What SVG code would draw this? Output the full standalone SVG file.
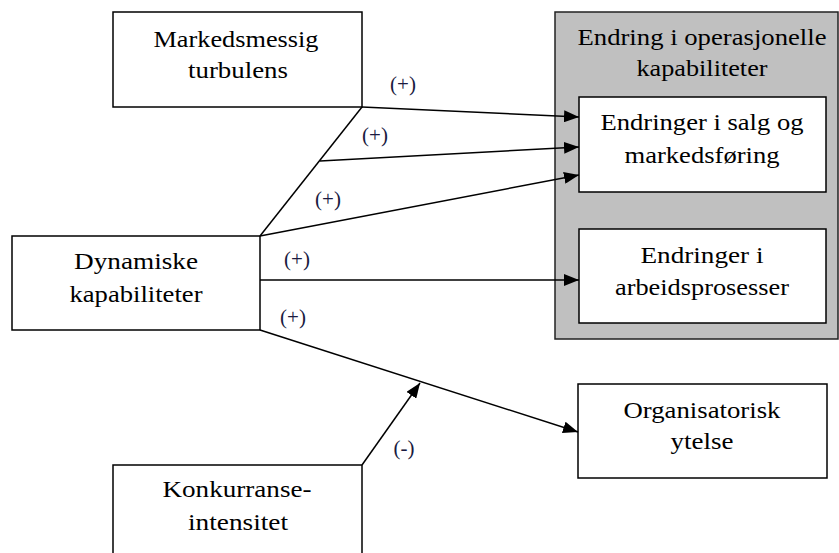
<svg xmlns="http://www.w3.org/2000/svg" width="839" height="553" viewBox="0 0 839 553">
<style>
.box{fill:#fff;stroke:#000;stroke-width:1.5}
.grp{fill:#c0c0c0;stroke:#222;stroke-width:1.5}
.t{font-family:"Liberation Serif","Times New Roman",serif;font-size:23px;fill:#000;text-anchor:middle}
.lbl{font-family:"Liberation Serif","Times New Roman",serif;font-size:21px;fill:#1a1a40;text-anchor:middle}
.c{stroke:#000;stroke-width:1.5;fill:none}
.ca{stroke:#000;stroke-width:1.5;fill:none;marker-end:url(#ah)}
</style>
<defs>
<marker id="ah" markerUnits="userSpaceOnUse" markerWidth="16" markerHeight="12" refX="15" refY="6" orient="auto">
<path d="M0,0 L15,6 L0,12 Z" fill="#000"/>
</marker>
</defs>
<rect width="839" height="553" fill="#fff"/>
<g id="gruppe-operasjonelle">
<rect class="grp" x="555" y="12" width="283" height="327"/>
<text class="t" x="702" y="45" textLength="249" lengthAdjust="spacingAndGlyphs">Endring i operasjonelle</text>
<text class="t" x="702" y="76" textLength="131" lengthAdjust="spacingAndGlyphs">kapabiliteter</text>
</g>
<g id="markedsmessig">
<rect class="box" x="113" y="12" width="249" height="95"/>
<text class="t" x="236" y="47" textLength="165" lengthAdjust="spacingAndGlyphs">Markedsmessig</text>
<text class="t" x="238" y="78" textLength="100" lengthAdjust="spacingAndGlyphs">turbulens</text>
</g>
<g id="dynamiske">
<rect class="box" x="12" y="236" width="248" height="94"/>
<text class="t" x="136" y="269" textLength="124" lengthAdjust="spacingAndGlyphs">Dynamiske</text>
<text class="t" x="136" y="302" textLength="133" lengthAdjust="spacingAndGlyphs">kapabiliteter</text>
</g>
<g id="salg">
<rect class="box" x="579" y="97" width="247" height="95"/>
<text class="t" x="702" y="130" textLength="203" lengthAdjust="spacingAndGlyphs">Endringer i salg og</text>
<text class="t" x="702" y="163" textLength="155" lengthAdjust="spacingAndGlyphs">markedsføring</text>
</g>
<g id="arbeid">
<rect class="box" x="579" y="229" width="247" height="94"/>
<text class="t" x="702" y="263" textLength="123" lengthAdjust="spacingAndGlyphs">Endringer i</text>
<text class="t" x="702" y="295" textLength="174" lengthAdjust="spacingAndGlyphs">arbeidsprosesser</text>
</g>
<g id="organisatorisk">
<rect class="box" x="578" y="384" width="249" height="94"/>
<text class="t" x="702" y="418" textLength="157" lengthAdjust="spacingAndGlyphs">Organisatorisk</text>
<text class="t" x="702" y="449" textLength="63" lengthAdjust="spacingAndGlyphs">ytelse</text>
</g>
<g id="konkurranse">
<rect class="box" x="113" y="465" width="249" height="100"/>
<text class="t" x="237" y="497" textLength="149" lengthAdjust="spacingAndGlyphs">Konkurranse-</text>
<text class="t" x="238" y="530" textLength="100" lengthAdjust="spacingAndGlyphs">intensitet</text>
</g>
<g id="connectors">
<line class="c" x1="362" y1="107" x2="260" y2="236"/>
<line class="ca" x1="362" y1="107" x2="579" y2="117"/>
<line class="ca" x1="320" y1="161" x2="579" y2="147"/>
<line class="ca" x1="260" y1="236" x2="579" y2="175"/>
<line class="ca" x1="260" y1="280" x2="579" y2="280"/>
<line class="ca" x1="260" y1="330" x2="578" y2="432"/>
<line class="ca" x1="362" y1="465" x2="420" y2="383"/>
<text class="lbl" x="403" y="91">(+)</text>
<text class="lbl" x="375" y="142">(+)</text>
<text class="lbl" x="328" y="206">(+)</text>
<text class="lbl" x="297" y="266">(+)</text>
<text class="lbl" x="293" y="324">(+)</text>
<text class="lbl" x="404" y="455">(-)</text>
</g>
</svg>
